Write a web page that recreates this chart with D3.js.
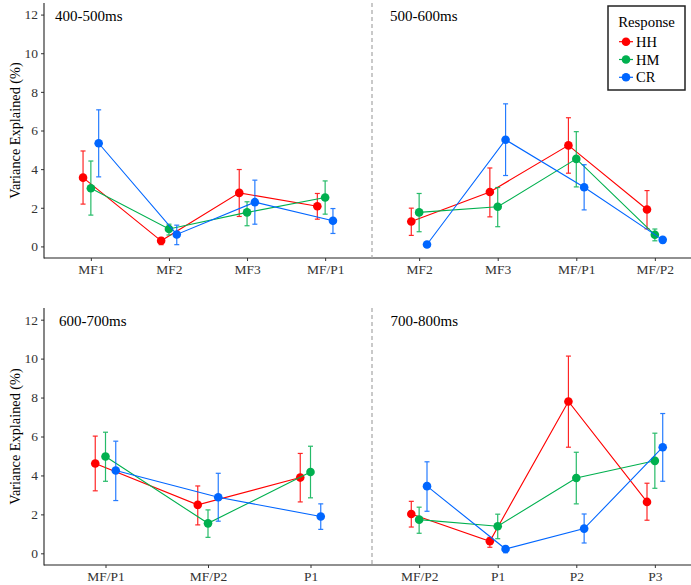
<!DOCTYPE html>
<html>
<head>
<meta charset="utf-8">
<script src="https://cdn.jsdelivr.net/npm/d3@7"></script>
<style>
  body { margin: 0; background: #fff; }
  svg { display: block; font-family: "Liberation Serif", "Times New Roman", serif; }
</style>
</head>
<body>
<div id="chart"></div>
<script>
// data, one entry per panel
const panelLabels = ["400-500ms", "500-600ms", "600-700ms", "700-800ms"];
const panelCats = [
  ["MF1", "MF2", "MF3", "MF/P1"],
  ["MF2", "MF3", "MF/P1", "MF/P2"],
  ["MF/P1", "MF/P2", "P1"],
  ["MF/P2", "P1", "P2", "P3"]
];
const seriesNames = ["HH", "HM", "CR"];
const yTicks = [0, 2, 4, 6, 8, 10, 12];

const hhMean = [[3.56, 0.29, 2.77, 2.08], [1.29, 2.82, 5.23, 1.91], [4.61, 2.49, 3.89], [2.02, 0.62, 7.80, 2.64]];
const hhLow  = [[2.19, 0.09, 1.55, 1.41], [0.57, 1.53, 3.79, 0.91], [3.21, 1.46, 2.64], [1.35, 0.31, 5.45, 1.70]];
const hhHigh = [[4.94, 0.46, 3.98, 2.74], [1.98, 4.06, 6.66, 2.89], [6.02, 3.46, 5.13], [2.67, 0.82, 10.13, 3.60]];

const hmMean = [[3.01, 0.90, 1.76, 2.53], [1.76, 2.05, 4.53, 0.60], [4.97, 1.54, 4.18], [1.73, 1.39, 3.87, 4.75]];
const hmLow  = [[1.62, 0.59, 1.07, 1.67], [0.76, 1.02, 3.08, 0.29], [3.70, 0.82, 2.85], [1.03, 0.75, 2.54, 3.34]];
const hmHigh = [[4.42, 1.15, 2.31, 3.39], [2.74, 3.05, 5.94, 0.90], [6.22, 2.23, 5.50], [2.37, 2.01, 5.19, 6.17]];

const crMean = [[5.34, 0.62, 2.29, 1.33], [0.10, 5.52, 3.06, 0.34], [4.25, 2.88, 1.89], [3.45, 0.22, 1.27, 5.45]];
const crLow  = [[3.60, 0.09, 1.15, 0.67], [0.02, 3.67, 1.89, 0.19], [2.71, 1.65, 1.23], [2.16, 0.03, 0.53, 3.70]];
const crHigh = [[7.07, 1.10, 3.43, 1.96], [0.19, 7.38, 4.23, 0.46], [5.76, 4.11, 2.54], [4.70, 0.36, 2.02, 7.18]];

const seriesMean = [hhMean, hmMean, crMean];
const seriesLow = [hhLow, hmLow, crLow];
const seriesHigh = [hhHigh, hmHigh, crHigh];
const colors = ["#ff0000", "#00b04f", "#0066ff"];

const W = 691, H = 585;
const axisX = 44, divX = 372, rightEnd = 702;
const rows = [{ top: 3, bottom: 258 }, { top: 308, bottom: 565 }];

let svg = d3.select("#chart").append("svg")
  .attr("width", W).attr("height", H);

rows.forEach((row, r) => {
  let y = d3.scaleLinear().domain([-0.6, 12.6]).range([row.bottom, row.top]);

  // y axis
  let yAxis = svg.append("g")
    .attr("transform", "translate(" + axisX + ",0)")
    .call(d3.axisLeft(y).tickValues(yTicks).tickSize(3).tickPadding(3));
  yAxis.select(".domain").remove();
  yAxis.selectAll("line").attr("stroke", "#333");
  yAxis.selectAll("text").attr("font-size", 13.5).attr("fill", "#333")
    .attr("font-family", "Liberation Serif");
  svg.append("line")
    .attr("x1", axisX).attr("x2", axisX)
    .attr("y1", row.top).attr("y2", row.bottom + 0.5)
    .attr("stroke", "#222").attr("stroke-width", 1.1);

  // x axis baseline across both panels
  svg.append("line")
    .attr("x1", axisX).attr("x2", W)
    .attr("y1", row.bottom).attr("y2", row.bottom)
    .attr("stroke", "#222").attr("stroke-width", 1.1);

  // divider
  svg.append("line")
    .attr("x1", divX).attr("x2", divX)
    .attr("y1", row.top).attr("y2", row.bottom)
    .attr("stroke", "#a6a6a6").attr("stroke-width", 1.2)
    .attr("stroke-dasharray", "4,3");

  svg.append("text")
    .attr("transform", "translate(20," + ((row.top + row.bottom) / 2) + ") rotate(-90)")
    .attr("text-anchor", "middle")
    .attr("font-size", 14.3)
    .text("Variance Explained (%)");

  [0, 1].forEach(c => {
    let p = r * 2 + c;
    let cats = panelCats[p];
    let x0 = c == 0 ? axisX : divX;
    let x1 = c == 0 ? divX : rightEnd;
    let x = d3.scalePoint().domain(cats).range([x0, x1]).padding(0.6);
    let dodge = x.step() * 0.1;

    let xAxis = svg.append("g")
      .attr("transform", "translate(0," + row.bottom + ")")
      .call(d3.axisBottom(x).tickSize(3).tickPadding(3));
    xAxis.select(".domain").remove();
    xAxis.selectAll("line").attr("stroke", "#333");
    xAxis.selectAll("text").attr("font-size", 13.5).attr("fill", "#333")
      .attr("font-family", "Liberation Serif");

    svg.append("text")
      .attr("x", [55, 390, 59, 390.5][p])
      .attr("y", row.top + 17.5)
      .attr("font-size", 15)
      .text(panelLabels[p]);

    seriesNames.forEach((s, k) => {
      let pts = cats.map((cat, i) => ({
        x: x(cat) + (k - 1) * dodge,
        m: seriesMean[k][p][i],
        lo: seriesLow[k][p][i],
        hi: seriesHigh[k][p][i]
      }));
      let g = svg.append("g");
      g.append("path")
        .datum(pts)
        .attr("fill", "none")
        .attr("stroke", colors[k])
        .attr("stroke-width", 1.1)
        .attr("d", d3.line().x(d => d.x).y(d => y(d.m)));

      let eb = g.selectAll(".eb").data(pts).enter().append("g")
        .attr("stroke", colors[k]).attr("stroke-width", 1.2).attr("opacity", 0.85);
      eb.append("line")
        .attr("x1", d => d.x).attr("x2", d => d.x)
        .attr("y1", d => y(d.lo)).attr("y2", d => y(d.hi));
      eb.append("line")
        .attr("x1", d => d.x - 2.5).attr("x2", d => d.x + 2.5)
        .attr("y1", d => y(d.lo)).attr("y2", d => y(d.lo));
      eb.append("line")
        .attr("x1", d => d.x - 2.5).attr("x2", d => d.x + 2.5)
        .attr("y1", d => y(d.hi)).attr("y2", d => y(d.hi));

      g.selectAll("circle").data(pts).enter().append("circle")
        .attr("cx", d => d.x).attr("cy", d => y(d.m))
        .attr("r", 4.3)
        .attr("fill", colors[k]);
    });
  });
});

// legend
let leg = svg.append("g");
leg.append("rect")
  .attr("x", 608).attr("y", 6).attr("width", 77).attr("height", 84)
  .attr("fill", "#fff").attr("stroke", "#222").attr("stroke-width", 1.5);
leg.append("text")
  .attr("x", 646.5).attr("y", 27).attr("text-anchor", "middle")
  .attr("font-size", 14.8).text("Response");
seriesNames.forEach((s, k) => {
  let ly = 41.7 + k * 17.8;
  leg.append("line")
    .attr("x1", 619).attr("x2", 633).attr("y1", ly).attr("y2", ly)
    .attr("stroke", colors[k]).attr("stroke-width", 1.2);
  leg.append("circle").attr("cx", 626).attr("cy", ly).attr("r", 4.3).attr("fill", colors[k]);
  leg.append("text")
    .attr("x", 636).attr("y", ly + 5).attr("font-size", 14.5).text(s);
});
</script>
</body>
</html>
